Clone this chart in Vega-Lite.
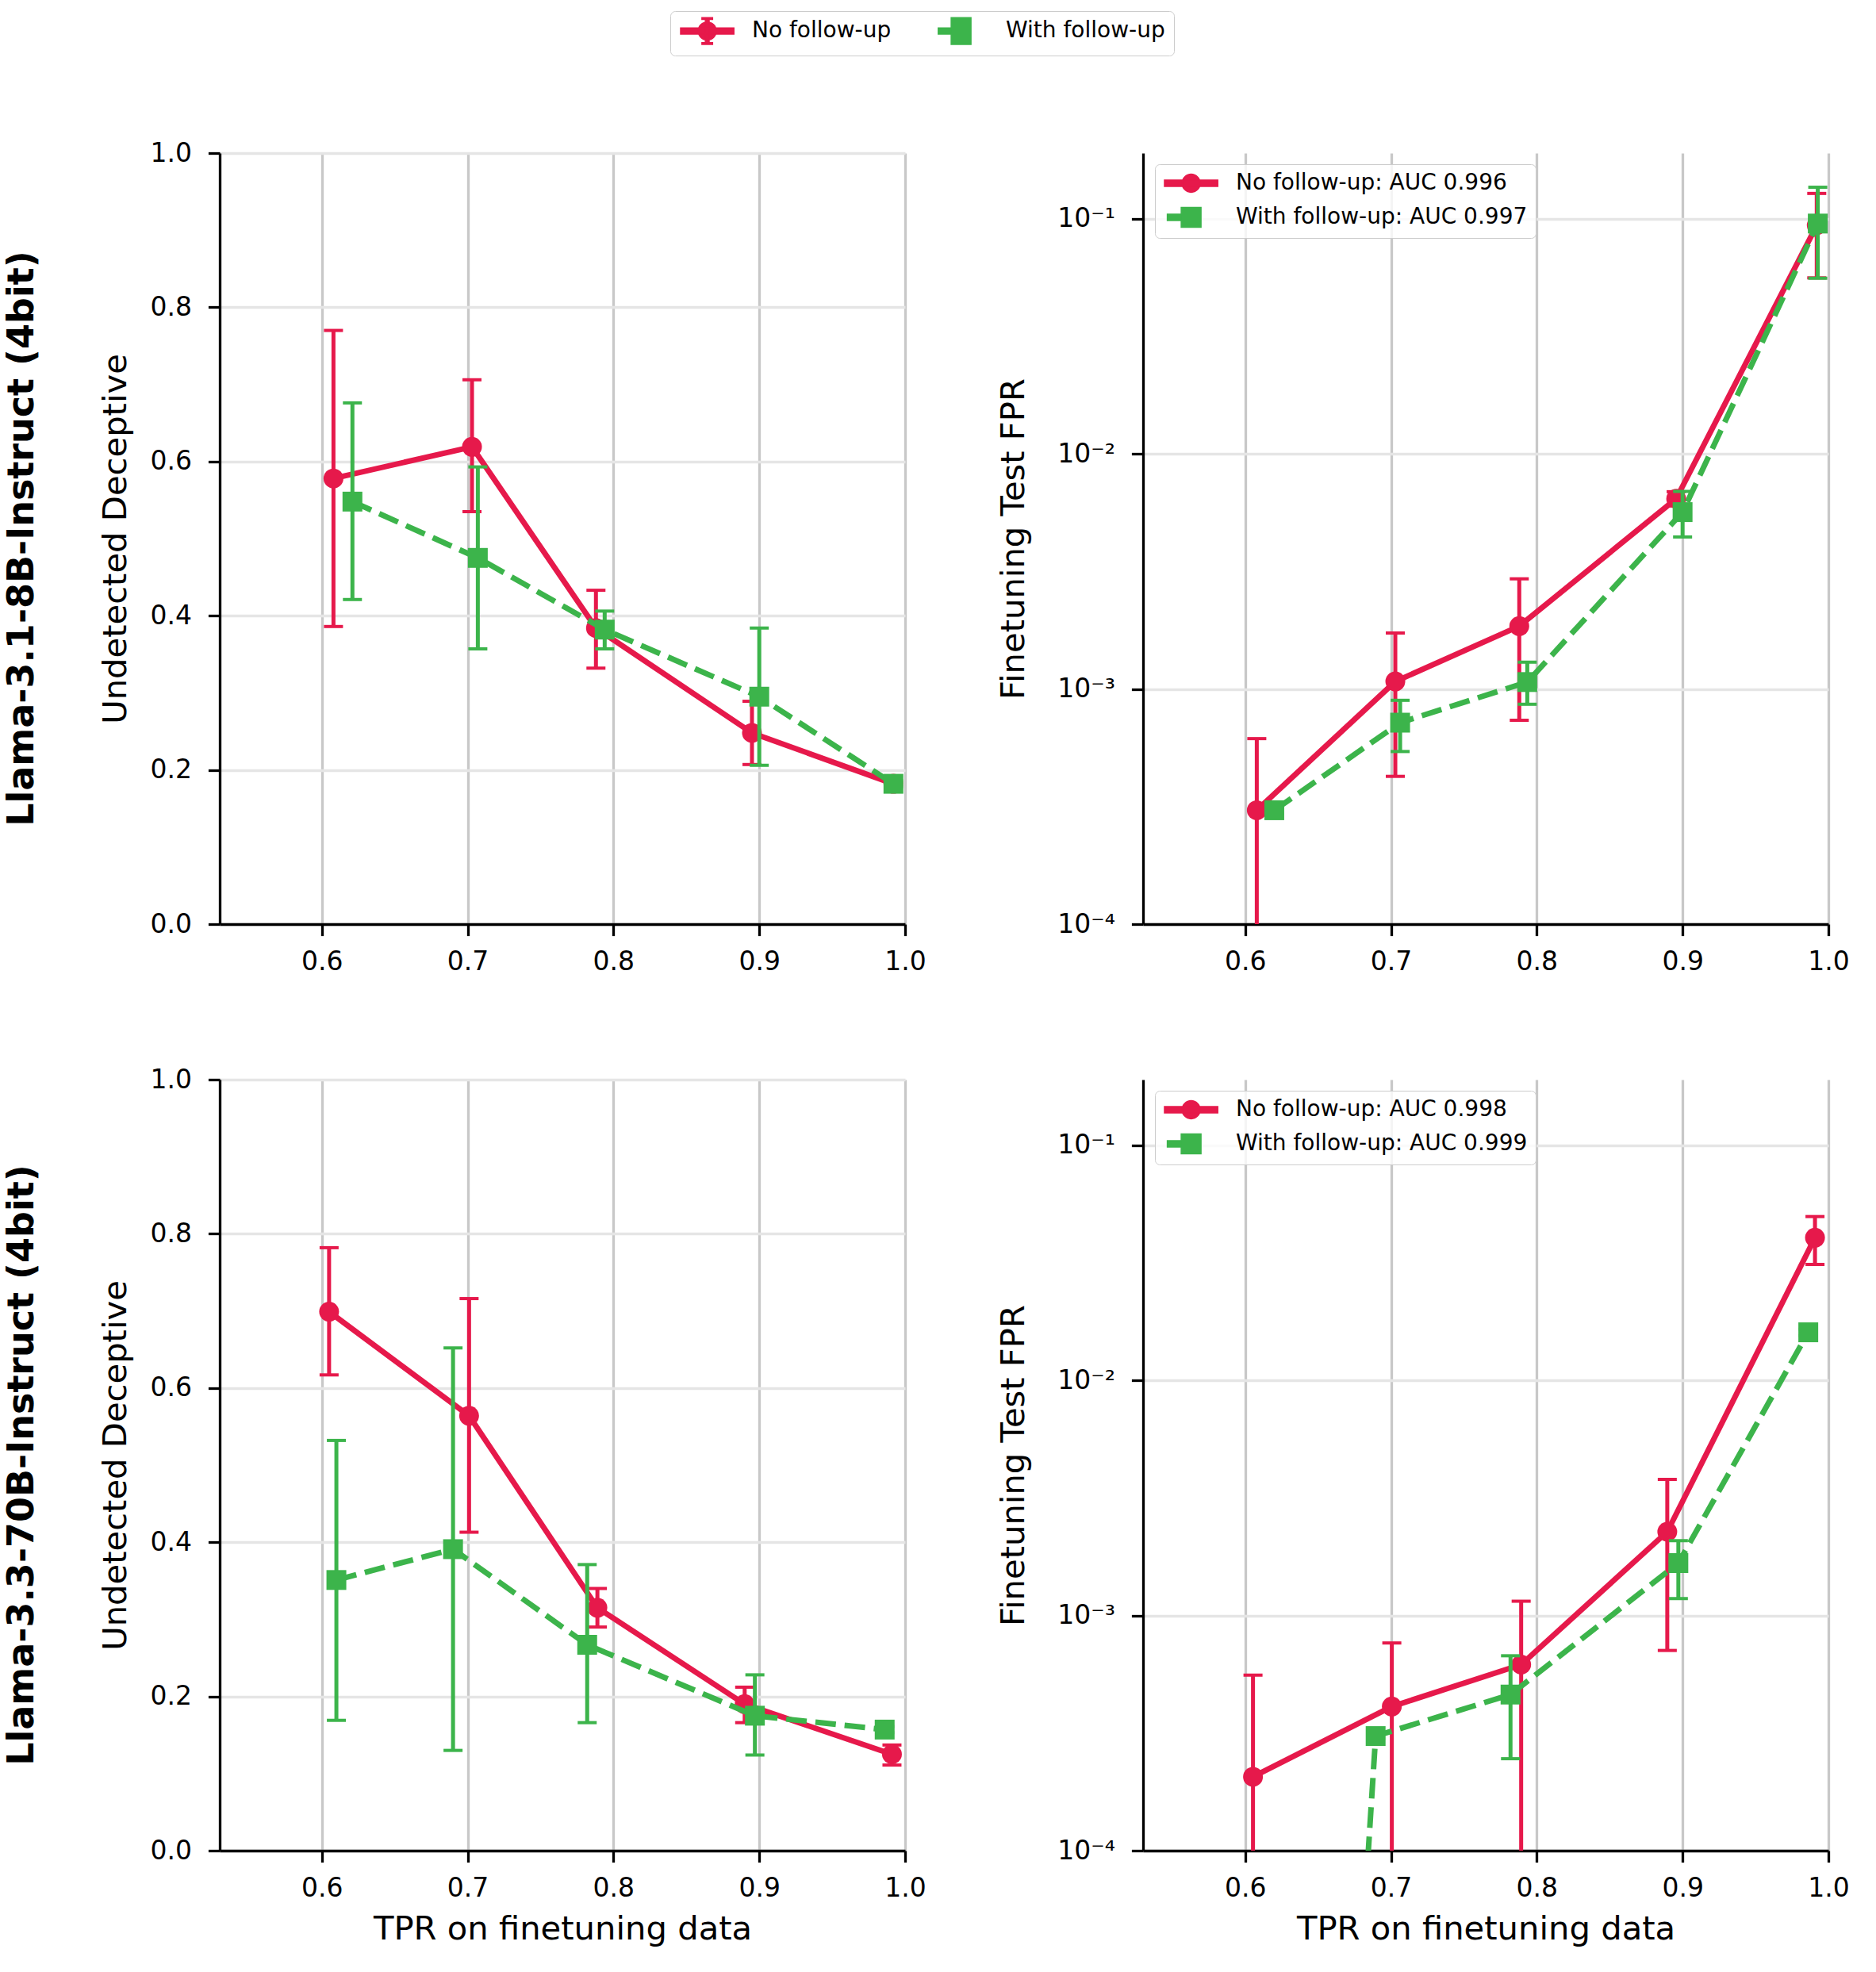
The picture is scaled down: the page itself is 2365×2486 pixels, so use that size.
{
  "$schema": "https://vega.github.io/schema/vega-lite/v6.json",
  "background": "white",
  "padding": {"left": 4, "top": 13, "right": 10, "bottom": 10},
  "columns": 2,
  "spacing": {"row": 196, "column": 300},
  "bounds": "flush",
  "resolve": {"scale": {"x": "independent", "y": "independent", "color": "independent"}},
  "concat": [
    {
      "width": 864, "height": 972,
      "title": {"text": "Llama-3.1-8B-Instruct (4bit)", "orient": "left", "anchor": "middle", "frame": "group", "fontSize": 46, "fontWeight": "bold", "offset": 74},
      "data": {"values": [
        {"series": "No follow-up", "x": 0.608, "y": 0.578, "lo": 0.386, "hi": 0.770},
        {"series": "No follow-up", "x": 0.703, "y": 0.619, "lo": 0.535, "hi": 0.706},
        {"series": "No follow-up", "x": 0.788, "y": 0.384, "lo": 0.332, "hi": 0.433},
        {"series": "No follow-up", "x": 0.895, "y": 0.248, "lo": 0.207, "hi": 0.289},
        {"series": "No follow-up", "x": 0.992, "y": 0.182, "lo": 0.178, "hi": 0.186},
        {"series": "With follow-up", "x": 0.621, "y": 0.548, "lo": 0.421, "hi": 0.676},
        {"series": "With follow-up", "x": 0.707, "y": 0.475, "lo": 0.357, "hi": 0.593},
        {"series": "With follow-up", "x": 0.794, "y": 0.382, "lo": 0.357, "hi": 0.406},
        {"series": "With follow-up", "x": 0.900, "y": 0.295, "lo": 0.206, "hi": 0.384},
        {"series": "With follow-up", "x": 0.992, "y": 0.182, "lo": 0.178, "hi": 0.186}
      ]},
      "encoding": {
        "x": {"field": "x", "type": "quantitative", "scale": {"domain": [0.53, 1.0], "nice": false, "zero": false}, "axis": {"values": [0.6, 0.7, 0.8, 0.9, 1.0], "format": ".1f", "title": null}},
        "y": {"field": "y", "type": "quantitative", "scale": {"domain": [0, 1], "nice": false, "zero": false}, "axis": {"values": [0, 0.2, 0.4, 0.6, 0.8, 1.0], "format": ".1f"}, "title": "Undetected Deceptive"},
        "color": {"field": "series", "type": "nominal", "scale": {"domain": ["No follow-up", "With follow-up"], "range": ["#e6194b", "#3cb44b"]},
          "legend": {"title": null, "orient": "none", "legendX": 568, "legendY": -179, "direction": "horizontal", "symbolSize": 576, "labelFontSize": 28, "labelOffset": 64, "labelLimit": 1000, "columnPadding": 52, "padding": 11, "strokeColor": "#cccccc", "fillColor": "white", "cornerRadius": 6,
            "encode": {"symbols": {"update": {
              "shape": {"signal": "datum.index === 0 ? 'M-1,-0.33H4.6V0.33H-1Z M2.75,0A0.95 0.95 0 1 1 0.85,0A0.95 0.95 0 1 1 2.75,0Z M1.6,-1.4H2V1.4H1.6Z M1.24,-1.4H2.36V-1.22H1.24Z M1.24,1.22H2.36V1.4H1.24Z' : 'M-0.6,-0.33H0.76V0.33H-0.6Z M0.76,-1.4H2.84V1.4H0.76Z'"},
              "fill": {"signal": "datum.index === 0 ? '#e6194b' : '#3cb44b'"},
              "stroke": {"value": "transparent"},
              "opacity": {"value": 1}}}}}}
      },
      "layer": [
        {"transform": [{"filter": "datum.series === 'No follow-up'"}], "mark": {"type": "rule", "strokeWidth": 5, "clip": true},
         "encoding": {"y": {"field": "lo", "type": "quantitative", "scale": {"domain": [0, 1], "nice": false, "zero": false}, "axis": {"values": [0, 0.2, 0.4, 0.6, 0.8, 1.0], "format": ".1f"}, "title": "Undetected Deceptive"}, "y2": {"field": "hi"}}},
        {"transform": [{"filter": "datum.series === 'No follow-up'"}, {"fold": ["lo", "hi"], "as": ["end", "v"]}], "mark": {"type": "tick", "orient": "horizontal", "size": 24, "thickness": 4, "opacity": 1, "clip": true},
         "encoding": {"y": {"field": "v", "type": "quantitative", "scale": {"domain": [0, 1], "nice": false, "zero": false}, "axis": {"values": [0, 0.2, 0.4, 0.6, 0.8, 1.0], "format": ".1f"}, "title": "Undetected Deceptive"}}},
        {"transform": [{"filter": "datum.series === 'No follow-up'"}], "mark": {"type": "line", "strokeWidth": 7, "strokeJoin": "round", "strokeCap": "round", "clip": true}, "encoding": {}},
        {"transform": [{"filter": "datum.series === 'No follow-up'"}], "mark": {"type": "point", "shape": "circle", "filled": true, "size": 625, "opacity": 1, "clip": true}, "encoding": {}},
        {"transform": [{"filter": "datum.series === 'With follow-up'"}], "mark": {"type": "rule", "strokeWidth": 5, "clip": true},
         "encoding": {"y": {"field": "lo", "type": "quantitative", "scale": {"domain": [0, 1], "nice": false, "zero": false}, "axis": {"values": [0, 0.2, 0.4, 0.6, 0.8, 1.0], "format": ".1f"}, "title": "Undetected Deceptive"}, "y2": {"field": "hi"}}},
        {"transform": [{"filter": "datum.series === 'With follow-up'"}, {"fold": ["lo", "hi"], "as": ["end", "v"]}], "mark": {"type": "tick", "orient": "horizontal", "size": 24, "thickness": 4, "opacity": 1, "clip": true},
         "encoding": {"y": {"field": "v", "type": "quantitative", "scale": {"domain": [0, 1], "nice": false, "zero": false}, "axis": {"values": [0, 0.2, 0.4, 0.6, 0.8, 1.0], "format": ".1f"}, "title": "Undetected Deceptive"}}},
        {"transform": [{"filter": "datum.series === 'With follow-up'"}], "mark": {"type": "line", "strokeWidth": 7, "strokeDash": [26, 11], "strokeJoin": "round", "clip": true}, "encoding": {}},
        {"transform": [{"filter": "datum.series === 'With follow-up'"}], "mark": {"type": "point", "shape": "square", "filled": true, "size": 625, "opacity": 1, "clip": true}, "encoding": {}}
      ]
    },
    {
      "width": 864, "height": 972,
      "data": {"values": [
        {"series": "No follow-up", "label": "No follow-up: AUC 0.996", "x": 0.608, "y": 0.000305, "lo": 0.000001, "hi": 0.000615},
        {"series": "No follow-up", "label": "No follow-up: AUC 0.996", "x": 0.703, "y": 0.001076, "lo": 0.000425, "hi": 0.00173},
        {"series": "No follow-up", "label": "No follow-up: AUC 0.996", "x": 0.788, "y": 0.00185, "lo": 0.000736, "hi": 0.00294},
        {"series": "No follow-up", "label": "No follow-up: AUC 0.996", "x": 0.8956, "y": 0.00644, "lo": 0.0060, "hi": 0.0069},
        {"series": "No follow-up", "label": "No follow-up: AUC 0.996", "x": 0.992, "y": 0.0937, "lo": 0.056, "hi": 0.128},
        {"series": "With follow-up", "label": "With follow-up: AUC 0.997", "x": 0.620, "y": 0.000305, "lo": 0.000296, "hi": 0.000314},
        {"series": "With follow-up", "label": "With follow-up: AUC 0.997", "x": 0.7063, "y": 0.000719, "lo": 0.000542, "hi": 0.000895},
        {"series": "With follow-up", "label": "With follow-up: AUC 0.997", "x": 0.7935, "y": 0.00107, "lo": 0.000861, "hi": 0.0013},
        {"series": "With follow-up", "label": "With follow-up: AUC 0.997", "x": 0.900, "y": 0.00565, "lo": 0.00443, "hi": 0.00692},
        {"series": "With follow-up", "label": "With follow-up: AUC 0.997", "x": 0.9927, "y": 0.0953, "lo": 0.0558, "hi": 0.136}
      ]},
      "encoding": {
        "x": {"field": "x", "type": "quantitative", "scale": {"domain": [0.53, 1.0], "nice": false, "zero": false}, "axis": {"values": [0.6, 0.7, 0.8, 0.9, 1.0], "format": ".1f", "title": null}},
        "y": {"field": "y", "type": "quantitative", "scale": {"type": "log", "domain": [0.0001, 0.19], "nice": false}, "axis": {"values": [0.0001, 0.001, 0.01, 0.1], "titlePadding": 33, "labelExpr": "datum.value < 0.0005 ? '10⁻⁴' : datum.value < 0.005 ? '10⁻³' : datum.value < 0.05 ? '10⁻²' : '10⁻¹'"}, "title": "Finetuning Test FPR"},
        "color": {"field": "label", "type": "nominal", "scale": {"domain": ["No follow-up: AUC 0.996", "With follow-up: AUC 0.997"], "range": ["#e6194b", "#3cb44b"]},
          "legend": {"title": null, "orient": "none", "legendX": 15, "legendY": 14, "direction": "vertical", "symbolSize": 576, "labelFontSize": 28, "labelOffset": 64, "labelLimit": 1000, "rowPadding": 12, "padding": 10, "strokeColor": "#cccccc", "fillColor": "rgba(255,255,255,0.8)", "cornerRadius": 6,
            "encode": {"symbols": {"update": {
              "shape": {"signal": "datum.index === 0 ? 'M-1,-0.33H4.6V0.33H-1Z M2.75,0A0.95 0.95 0 1 1 0.85,0A0.95 0.95 0 1 1 2.75,0Z' : 'M-0.7,-0.33H0.76V0.33H-0.7Z M0.76,-1.04H2.84V1.04H0.76Z'"},
              "fill": {"signal": "datum.index === 0 ? '#e6194b' : '#3cb44b'"},
              "stroke": {"value": "transparent"},
              "opacity": {"value": 1}}}}}}
      },
      "layer": [
        {"transform": [{"filter": "datum.series === 'No follow-up'"}], "mark": {"type": "rule", "strokeWidth": 5, "clip": true},
         "encoding": {"y": {"field": "lo", "type": "quantitative", "scale": {"type": "log", "domain": [0.0001, 0.19], "nice": false}, "axis": {"values": [0.0001, 0.001, 0.01, 0.1], "titlePadding": 33, "labelExpr": "datum.value < 0.0005 ? '10⁻⁴' : datum.value < 0.005 ? '10⁻³' : datum.value < 0.05 ? '10⁻²' : '10⁻¹'"}, "title": "Finetuning Test FPR"}, "y2": {"field": "hi"}}},
        {"transform": [{"filter": "datum.series === 'No follow-up'"}, {"fold": ["lo", "hi"], "as": ["end", "v"]}], "mark": {"type": "tick", "orient": "horizontal", "size": 24, "thickness": 4, "opacity": 1, "clip": true},
         "encoding": {"y": {"field": "v", "type": "quantitative", "scale": {"type": "log", "domain": [0.0001, 0.19], "nice": false}, "axis": {"values": [0.0001, 0.001, 0.01, 0.1], "titlePadding": 33, "labelExpr": "datum.value < 0.0005 ? '10⁻⁴' : datum.value < 0.005 ? '10⁻³' : datum.value < 0.05 ? '10⁻²' : '10⁻¹'"}, "title": "Finetuning Test FPR"}}},
        {"transform": [{"filter": "datum.series === 'No follow-up'"}], "mark": {"type": "line", "strokeWidth": 7, "strokeJoin": "round", "strokeCap": "round", "clip": true}, "encoding": {}},
        {"transform": [{"filter": "datum.series === 'No follow-up'"}], "mark": {"type": "point", "shape": "circle", "filled": true, "size": 625, "opacity": 1, "clip": true}, "encoding": {}},
        {"transform": [{"filter": "datum.series === 'With follow-up'"}], "mark": {"type": "rule", "strokeWidth": 5, "clip": true},
         "encoding": {"y": {"field": "lo", "type": "quantitative", "scale": {"type": "log", "domain": [0.0001, 0.19], "nice": false}, "axis": {"values": [0.0001, 0.001, 0.01, 0.1], "titlePadding": 33, "labelExpr": "datum.value < 0.0005 ? '10⁻⁴' : datum.value < 0.005 ? '10⁻³' : datum.value < 0.05 ? '10⁻²' : '10⁻¹'"}, "title": "Finetuning Test FPR"}, "y2": {"field": "hi"}}},
        {"transform": [{"filter": "datum.series === 'With follow-up'"}, {"fold": ["lo", "hi"], "as": ["end", "v"]}], "mark": {"type": "tick", "orient": "horizontal", "size": 24, "thickness": 4, "opacity": 1, "clip": true},
         "encoding": {"y": {"field": "v", "type": "quantitative", "scale": {"type": "log", "domain": [0.0001, 0.19], "nice": false}, "axis": {"values": [0.0001, 0.001, 0.01, 0.1], "titlePadding": 33, "labelExpr": "datum.value < 0.0005 ? '10⁻⁴' : datum.value < 0.005 ? '10⁻³' : datum.value < 0.05 ? '10⁻²' : '10⁻¹'"}, "title": "Finetuning Test FPR"}}},
        {"transform": [{"filter": "datum.series === 'With follow-up'"}], "mark": {"type": "line", "strokeWidth": 7, "strokeDash": [26, 11], "strokeJoin": "round", "clip": true}, "encoding": {}},
        {"transform": [{"filter": "datum.series === 'With follow-up'"}], "mark": {"type": "point", "shape": "square", "filled": true, "size": 625, "opacity": 1, "clip": true}, "encoding": {}}
      ]
    },
    {
      "width": 864, "height": 972,
      "title": {"text": "Llama-3.3-70B-Instruct (4bit)", "orient": "left", "anchor": "middle", "frame": "group", "fontSize": 46, "fontWeight": "bold", "offset": 74},
      "data": {"values": [
        {"series": "No follow-up", "x": 0.605, "y": 0.699, "lo": 0.617, "hi": 0.782},
        {"series": "No follow-up", "x": 0.701, "y": 0.564, "lo": 0.413, "hi": 0.716},
        {"series": "No follow-up", "x": 0.789, "y": 0.315, "lo": 0.290, "hi": 0.340},
        {"series": "No follow-up", "x": 0.890, "y": 0.190, "lo": 0.166, "hi": 0.212},
        {"series": "No follow-up", "x": 0.991, "y": 0.125, "lo": 0.111, "hi": 0.137},
        {"series": "With follow-up", "x": 0.610, "y": 0.351, "lo": 0.169, "hi": 0.532},
        {"series": "With follow-up", "x": 0.690, "y": 0.391, "lo": 0.130, "hi": 0.652},
        {"series": "With follow-up", "x": 0.782, "y": 0.267, "lo": 0.166, "hi": 0.371},
        {"series": "With follow-up", "x": 0.897, "y": 0.175, "lo": 0.124, "hi": 0.228},
        {"series": "With follow-up", "x": 0.986, "y": 0.157, "lo": 0.153, "hi": 0.161}
      ]},
      "encoding": {
        "x": {"field": "x", "type": "quantitative", "scale": {"domain": [0.53, 1.0], "nice": false, "zero": false}, "axis": {"values": [0.6, 0.7, 0.8, 0.9, 1.0], "format": ".1f"}, "title": "TPR on finetuning data"},
        "y": {"field": "y", "type": "quantitative", "scale": {"domain": [0, 1], "nice": false, "zero": false}, "axis": {"values": [0, 0.2, 0.4, 0.6, 0.8, 1.0], "format": ".1f"}, "title": "Undetected Deceptive"},
        "color": {"field": "series", "type": "nominal", "scale": {"domain": ["No follow-up", "With follow-up"], "range": ["#e6194b", "#3cb44b"]}, "legend": null}
      },
      "layer": [
        {"transform": [{"filter": "datum.series === 'No follow-up'"}], "mark": {"type": "rule", "strokeWidth": 5, "clip": true},
         "encoding": {"y": {"field": "lo", "type": "quantitative", "scale": {"domain": [0, 1], "nice": false, "zero": false}, "axis": {"values": [0, 0.2, 0.4, 0.6, 0.8, 1.0], "format": ".1f"}, "title": "Undetected Deceptive"}, "y2": {"field": "hi"}}},
        {"transform": [{"filter": "datum.series === 'No follow-up'"}, {"fold": ["lo", "hi"], "as": ["end", "v"]}], "mark": {"type": "tick", "orient": "horizontal", "size": 24, "thickness": 4, "opacity": 1, "clip": true},
         "encoding": {"y": {"field": "v", "type": "quantitative", "scale": {"domain": [0, 1], "nice": false, "zero": false}, "axis": {"values": [0, 0.2, 0.4, 0.6, 0.8, 1.0], "format": ".1f"}, "title": "Undetected Deceptive"}}},
        {"transform": [{"filter": "datum.series === 'No follow-up'"}], "mark": {"type": "line", "strokeWidth": 7, "strokeJoin": "round", "strokeCap": "round", "clip": true}, "encoding": {}},
        {"transform": [{"filter": "datum.series === 'No follow-up'"}], "mark": {"type": "point", "shape": "circle", "filled": true, "size": 625, "opacity": 1, "clip": true}, "encoding": {}},
        {"transform": [{"filter": "datum.series === 'With follow-up'"}], "mark": {"type": "rule", "strokeWidth": 5, "clip": true},
         "encoding": {"y": {"field": "lo", "type": "quantitative", "scale": {"domain": [0, 1], "nice": false, "zero": false}, "axis": {"values": [0, 0.2, 0.4, 0.6, 0.8, 1.0], "format": ".1f"}, "title": "Undetected Deceptive"}, "y2": {"field": "hi"}}},
        {"transform": [{"filter": "datum.series === 'With follow-up'"}, {"fold": ["lo", "hi"], "as": ["end", "v"]}], "mark": {"type": "tick", "orient": "horizontal", "size": 24, "thickness": 4, "opacity": 1, "clip": true},
         "encoding": {"y": {"field": "v", "type": "quantitative", "scale": {"domain": [0, 1], "nice": false, "zero": false}, "axis": {"values": [0, 0.2, 0.4, 0.6, 0.8, 1.0], "format": ".1f"}, "title": "Undetected Deceptive"}}},
        {"transform": [{"filter": "datum.series === 'With follow-up'"}], "mark": {"type": "line", "strokeWidth": 7, "strokeDash": [26, 11], "strokeJoin": "round", "clip": true}, "encoding": {}},
        {"transform": [{"filter": "datum.series === 'With follow-up'"}], "mark": {"type": "point", "shape": "square", "filled": true, "size": 625, "opacity": 1, "clip": true}, "encoding": {}}
      ]
    },
    {
      "width": 864, "height": 972,
      "data": {"values": [
        {"series": "No follow-up", "label": "No follow-up: AUC 0.998", "x": 0.6054, "y": 0.000206, "lo": 0.000001, "hi": 0.000558},
        {"series": "No follow-up", "label": "No follow-up: AUC 0.998", "x": 0.7006, "y": 0.00041, "lo": 0.000001, "hi": 0.000764},
        {"series": "No follow-up", "label": "No follow-up: AUC 0.998", "x": 0.7893, "y": 0.000618, "lo": 0.000001, "hi": 0.00115},
        {"series": "No follow-up", "label": "No follow-up: AUC 0.998", "x": 0.8895, "y": 0.00227, "lo": 0.00071, "hi": 0.00379},
        {"series": "No follow-up", "label": "No follow-up: AUC 0.998", "x": 0.9908, "y": 0.0404, "lo": 0.0311, "hi": 0.0497},
        {"series": "With follow-up", "label": "With follow-up: AUC 0.999", "x": 0.61, "y": 0.0000000000056, "lo": 0.0000000000056, "hi": 0.0000000000056},
        {"series": "With follow-up", "label": "With follow-up: AUC 0.999", "x": 0.6895, "y": 0.000307, "lo": 0.0003, "hi": 0.000314},
        {"series": "With follow-up", "label": "With follow-up: AUC 0.999", "x": 0.782, "y": 0.000461, "lo": 0.000246, "hi": 0.000674},
        {"series": "With follow-up", "label": "With follow-up: AUC 0.999", "x": 0.8971, "y": 0.00167, "lo": 0.00118, "hi": 0.00208},
        {"series": "With follow-up", "label": "With follow-up: AUC 0.999", "x": 0.9862, "y": 0.016, "lo": 0.0155, "hi": 0.0165}
      ]},
      "encoding": {
        "x": {"field": "x", "type": "quantitative", "scale": {"domain": [0.53, 1.0], "nice": false, "zero": false}, "axis": {"values": [0.6, 0.7, 0.8, 0.9, 1.0], "format": ".1f"}, "title": "TPR on finetuning data"},
        "y": {"field": "y", "type": "quantitative", "scale": {"type": "log", "domain": [0.0001, 0.19], "nice": false}, "axis": {"values": [0.0001, 0.001, 0.01, 0.1], "titlePadding": 33, "labelExpr": "datum.value < 0.0005 ? '10⁻⁴' : datum.value < 0.005 ? '10⁻³' : datum.value < 0.05 ? '10⁻²' : '10⁻¹'"}, "title": "Finetuning Test FPR"},
        "color": {"field": "label", "type": "nominal", "scale": {"domain": ["No follow-up: AUC 0.998", "With follow-up: AUC 0.999"], "range": ["#e6194b", "#3cb44b"]},
          "legend": {"title": null, "orient": "none", "legendX": 15, "legendY": 14, "direction": "vertical", "symbolSize": 576, "labelFontSize": 28, "labelOffset": 64, "labelLimit": 1000, "rowPadding": 12, "padding": 10, "strokeColor": "#cccccc", "fillColor": "rgba(255,255,255,0.8)", "cornerRadius": 6,
            "encode": {"symbols": {"update": {
              "shape": {"signal": "datum.index === 0 ? 'M-1,-0.33H4.6V0.33H-1Z M2.75,0A0.95 0.95 0 1 1 0.85,0A0.95 0.95 0 1 1 2.75,0Z' : 'M-0.7,-0.33H0.76V0.33H-0.7Z M0.76,-1.04H2.84V1.04H0.76Z'"},
              "fill": {"signal": "datum.index === 0 ? '#e6194b' : '#3cb44b'"},
              "stroke": {"value": "transparent"},
              "opacity": {"value": 1}}}}}}
      },
      "layer": [
        {"transform": [{"filter": "datum.series === 'No follow-up'"}], "mark": {"type": "rule", "strokeWidth": 5, "clip": true},
         "encoding": {"y": {"field": "lo", "type": "quantitative", "scale": {"type": "log", "domain": [0.0001, 0.19], "nice": false}, "axis": {"values": [0.0001, 0.001, 0.01, 0.1], "titlePadding": 33, "labelExpr": "datum.value < 0.0005 ? '10⁻⁴' : datum.value < 0.005 ? '10⁻³' : datum.value < 0.05 ? '10⁻²' : '10⁻¹'"}, "title": "Finetuning Test FPR"}, "y2": {"field": "hi"}}},
        {"transform": [{"filter": "datum.series === 'No follow-up'"}, {"fold": ["lo", "hi"], "as": ["end", "v"]}], "mark": {"type": "tick", "orient": "horizontal", "size": 24, "thickness": 4, "opacity": 1, "clip": true},
         "encoding": {"y": {"field": "v", "type": "quantitative", "scale": {"type": "log", "domain": [0.0001, 0.19], "nice": false}, "axis": {"values": [0.0001, 0.001, 0.01, 0.1], "titlePadding": 33, "labelExpr": "datum.value < 0.0005 ? '10⁻⁴' : datum.value < 0.005 ? '10⁻³' : datum.value < 0.05 ? '10⁻²' : '10⁻¹'"}, "title": "Finetuning Test FPR"}}},
        {"transform": [{"filter": "datum.series === 'No follow-up'"}], "mark": {"type": "line", "strokeWidth": 7, "strokeJoin": "round", "strokeCap": "round", "clip": true}, "encoding": {}},
        {"transform": [{"filter": "datum.series === 'No follow-up'"}], "mark": {"type": "point", "shape": "circle", "filled": true, "size": 625, "opacity": 1, "clip": true}, "encoding": {}},
        {"transform": [{"filter": "datum.series === 'With follow-up' && datum.x > 0.65"}], "mark": {"type": "rule", "strokeWidth": 5, "clip": true},
         "encoding": {"y": {"field": "lo", "type": "quantitative", "scale": {"type": "log", "domain": [0.0001, 0.19], "nice": false}, "axis": {"values": [0.0001, 0.001, 0.01, 0.1], "titlePadding": 33, "labelExpr": "datum.value < 0.0005 ? '10⁻⁴' : datum.value < 0.005 ? '10⁻³' : datum.value < 0.05 ? '10⁻²' : '10⁻¹'"}, "title": "Finetuning Test FPR"}, "y2": {"field": "hi"}}},
        {"transform": [{"filter": "datum.series === 'With follow-up' && datum.x > 0.65"}, {"fold": ["lo", "hi"], "as": ["end", "v"]}], "mark": {"type": "tick", "orient": "horizontal", "size": 24, "thickness": 4, "opacity": 1, "clip": true},
         "encoding": {"y": {"field": "v", "type": "quantitative", "scale": {"type": "log", "domain": [0.0001, 0.19], "nice": false}, "axis": {"values": [0.0001, 0.001, 0.01, 0.1], "titlePadding": 33, "labelExpr": "datum.value < 0.0005 ? '10⁻⁴' : datum.value < 0.005 ? '10⁻³' : datum.value < 0.05 ? '10⁻²' : '10⁻¹'"}, "title": "Finetuning Test FPR"}}},
        {"transform": [{"filter": "datum.series === 'With follow-up'"}], "mark": {"type": "line", "strokeWidth": 7, "strokeDash": [26, 11], "strokeJoin": "round", "clip": true}, "encoding": {}},
        {"transform": [{"filter": "datum.series === 'With follow-up'"}], "mark": {"type": "point", "shape": "square", "filled": true, "size": 625, "opacity": 1, "clip": true}, "encoding": {}}
      ]
    }
  ],
  "config": {
    "font": "DejaVu Sans",
    "view": {"stroke": null},
    "axis": {"domainColor": "#000000", "domainWidth": 3.3, "tickColor": "#000000", "tickWidth": 3.3, "tickSize": 14.6, "labelFontSize": 33, "labelColor": "#000000", "labelFlush": false, "labelOverlap": false, "titleFontSize": 41.7, "titleFontWeight": "normal", "titleColor": "#000000", "gridWidth": 3.3},
    "axisX": {"gridColor": "#c8c8c8", "labelPadding": 17, "titlePadding": 14},
    "axisY": {"gridColor": "#e5e5e5", "labelPadding": 21, "titlePadding": 21},
    "legend": {"labelColor": "#000000", "labelFont": "DejaVu Sans"},
    "title": {"color": "#000000"}
  }
}
